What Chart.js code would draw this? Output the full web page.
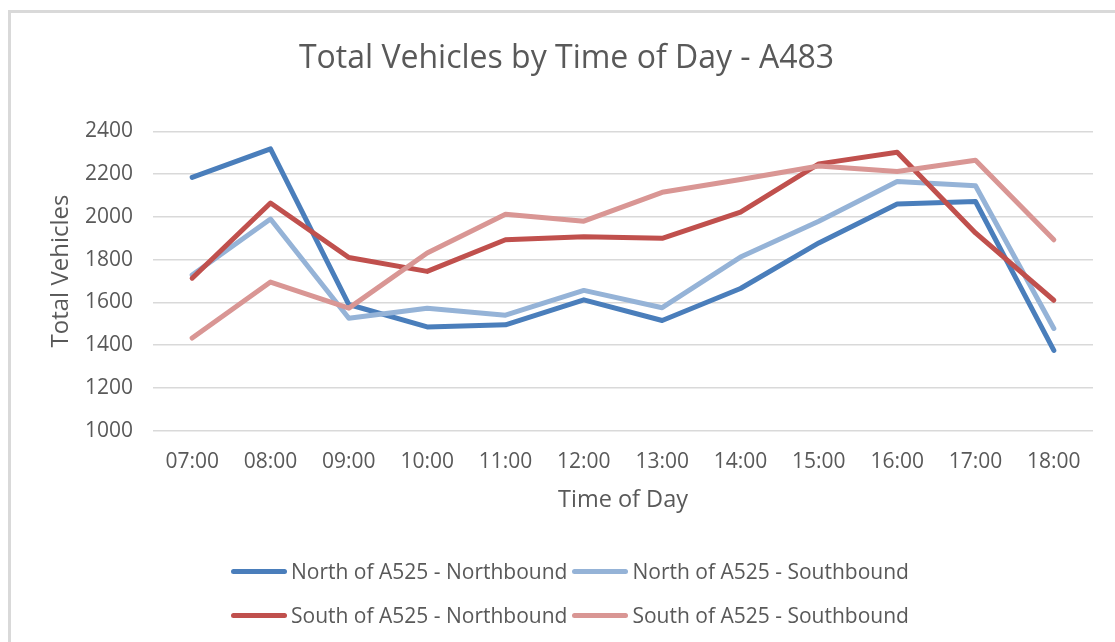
<!DOCTYPE html>
<html>
<head>
<meta charset="utf-8">
<script src="https://cdn.jsdelivr.net/npm/chart.js@4"></script>
<style>
  html, body { margin: 0; padding: 0; background: #fff; overflow: hidden; }
  #wrap { position: relative; width: 1115px; height: 642px; }
  #frame { position: absolute; left: 8px; top: 10px; width: 1200px; height: 700px;
           border-left: 3px solid #d9d9d9; border-top: 3px solid #d9d9d9; box-sizing: border-box; }
  canvas { position: absolute; left: 0; top: 0; }
  #legend { position: absolute; left: 231px; top: 558px; display: grid;
            grid-template-columns: auto auto; column-gap: 5px; row-gap: 18px;
            font-family: "Open Sans", sans-serif; font-size: 21px; color: #595959; }
  .item { display: flex; align-items: center; white-space: nowrap; height: 26px; }
  .swatch { width: 56px; height: 5px; border-radius: 3px; margin-right: 4px; }
</style>
</head>
<body>
<div id="wrap">
  <div id="frame"></div>
  <canvas id="c" width="1115" height="642"></canvas>
  <div id="legend"></div>
</div>
<script>
const times = ['07:00','08:00','09:00','10:00','11:00','12:00','13:00','14:00','15:00','16:00','17:00','18:00'];
const northNorthbound = [2185, 2318, 1590, 1485, 1495, 1612, 1515, 1665, 1878, 2060, 2072, 1375];
const northSouthbound = [1728, 1990, 1526, 1572, 1540, 1656, 1575, 1812, 1980, 2166, 2146, 1478];
const southNorthbound = [1713, 2065, 1810, 1745, 1893, 1907, 1900, 2022, 2248, 2302, 1925, 1610];
const southSouthbound = [1433, 1695, 1573, 1831, 2012, 1980, 2115, 2175, 2238, 2212, 2265, 1893];
const seriesNames = ['North of A525 - Northbound', 'North of A525 - Southbound', 'South of A525 - Northbound', 'South of A525 - Southbound'];
const yTicks = [1000, 1200, 1400, 1600, 1800, 2000, 2200, 2400];

const colors = ['#4a7ebb', '#95b3d7', '#c0504d', '#d99694'];
const seriesData = [northNorthbound, northSouthbound, southNorthbound, southSouthbound];
const textColor = '#595959';
const FONT = '"Open Sans", sans-serif';

const datasets = seriesData.map((d, i) => ({
  label: seriesNames[i],
  data: d,
  borderColor: colors[i],
  backgroundColor: colors[i],
  borderWidth: 5,
  pointRadius: 0,
  pointHoverRadius: 0,
  tension: 0,
  borderCapStyle: 'round',
  borderJoinStyle: 'round',
  fill: false,
  order: seriesData.length - 1 - i
}));

const yTitlePlugin = {
  id: 'yTitle',
  afterDraw(chart) {
    const { ctx, chartArea } = chart;
    ctx.save();
    ctx.font = '24px ' + FONT;
    ctx.fillStyle = textColor;
    ctx.textAlign = 'center';
    ctx.textBaseline = 'middle';
    ctx.translate(61, (chartArea.top + chartArea.bottom) / 2 - 10);
    ctx.rotate(-Math.PI / 2);
    ctx.fillText('Total Vehicles', 0, 0);
    ctx.restore();
  }
};

const chart = new Chart(document.getElementById('c'), {
  type: 'line',
  data: { labels: times, datasets },
  plugins: [yTitlePlugin],
  options: {
    responsive: false,
    animation: false,
    events: [],
    layout: { padding: { left: 40, right: 22, top: 0, bottom: 128 } },
    plugins: {
      legend: { display: false },
      tooltip: { enabled: false },
      title: {
        display: true,
        text: 'Total Vehicles by Time of Day - A483',
        color: textColor,
        font: { family: FONT, size: 32, weight: 'normal' },
        padding: { top: 40, bottom: 53 }
      }
    },
    scales: {
      x: {
        offset: true,
        afterFit(scale) { scale.height = 83.4; },
        grid: { display: false, drawTicks: false },
        border: { display: false },
        ticks: { color: textColor, font: { family: FONT, size: 21 }, padding: 19, maxRotation: 0, autoSkip: false },
        title: { display: true, text: 'Time of Day', color: textColor, font: { family: FONT, size: 23.5 }, padding: { top: 0, bottom: 0 } }
      },
      y: {
        min: 1000,
        max: 2400,
        afterBuildTicks(scale) { scale.ticks = yTicks.map(v => ({ value: v })); },
        afterFit(scale) { scale.width = 113; },
        grid: { color: '#d9d9d9', lineWidth: 1.5, drawTicks: false },
        border: { display: false },
        ticks: { color: textColor, font: { family: FONT, size: 21 }, padding: 20, callback: v => String(v) }
      }
    }
  }
});

const legend = document.getElementById('legend');
seriesNames.forEach((name, i) => {
  const item = document.createElement('div');
  item.className = 'item';
  const sw = document.createElement('span');
  sw.className = 'swatch';
  sw.style.background = colors[i];
  const tx = document.createElement('span');
  tx.textContent = name;
  item.appendChild(sw);
  item.appendChild(tx);
  legend.appendChild(item);
});
</script>
</body>
</html>
